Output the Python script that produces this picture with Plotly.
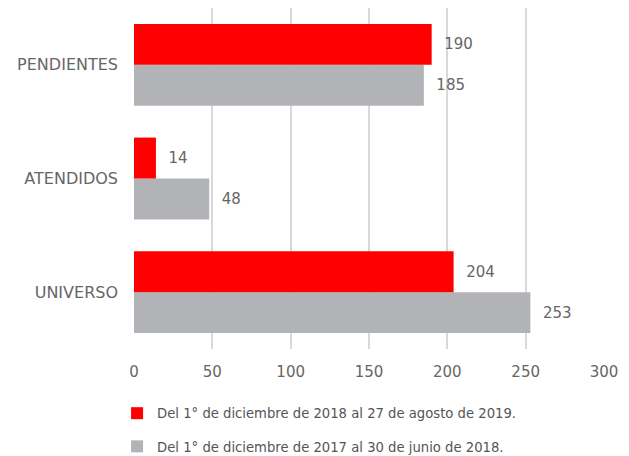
import plotly.graph_objects as go

categories = ["UNIVERSO", "ATENDIDOS", "PENDIENTES"]
serie_2019 = [204, 14, 190]
serie_2018 = [253, 48, 185]
name_2019 = "Del 1° de diciembre de 2018 al 27 de agosto de 2019."
name_2018 = "Del 1° de diciembre de 2017 al 30 de junio de 2018."
x_ticks = [0, 50, 100, 150, 200, 250, 300]

FONT = "DejaVu Sans"
pad = "\u00a0\u00a0"

fig = go.Figure()
fig.add_trace(go.Bar(
    y=categories, x=serie_2018, orientation="h", name=name_2018,
    marker=dict(color="#B2B3B6", line=dict(width=0)),
    text=[pad + str(v) for v in serie_2018], textposition="outside",
    textfont=dict(color="#666666", size=15, family=FONT),
    cliponaxis=False, legendrank=2, legendgroup="b",
))
fig.add_trace(go.Bar(
    y=categories, x=serie_2019, orientation="h", name=name_2019,
    marker=dict(color="#FF0000", line=dict(width=0)),
    text=[pad + str(v) for v in serie_2019], textposition="outside",
    textfont=dict(color="#666666", size=15, family=FONT),
    cliponaxis=False, legendrank=1, legendgroup="a",
))

fig.update_layout(
    width=629, height=456,
    margin=dict(l=126, r=33, t=0, b=115, autoexpand=False),
    paper_bgcolor="white", plot_bgcolor="white",
    barmode="group", bargap=0.28, bargroupgap=0,
    font=dict(family=FONT, color="#666666", size=15),
    xaxis=dict(range=[0, 300], tickvals=x_ticks, showgrid=True,
               gridcolor="#D9D9D9", gridwidth=2, zeroline=False,
               showline=False, ticks="", tickfont=dict(size=15, color="#666666"),
               ticklabelstandoff=12, automargin=False),
    yaxis=dict(showgrid=False, zeroline=False, showline=False, ticks="",
               tickfont=dict(size=16, color="#666666"), ticklabelstandoff=15,
               automargin=False),
    legend=dict(orientation="v", x=-0.036, xref="paper", y=-0.144, yanchor="top",
                traceorder="grouped", tracegroupgap=13,
                font=dict(size=13.2, color="#555555", family=FONT),
                itemwidth=30),
)
fig.write_html("out.html")
